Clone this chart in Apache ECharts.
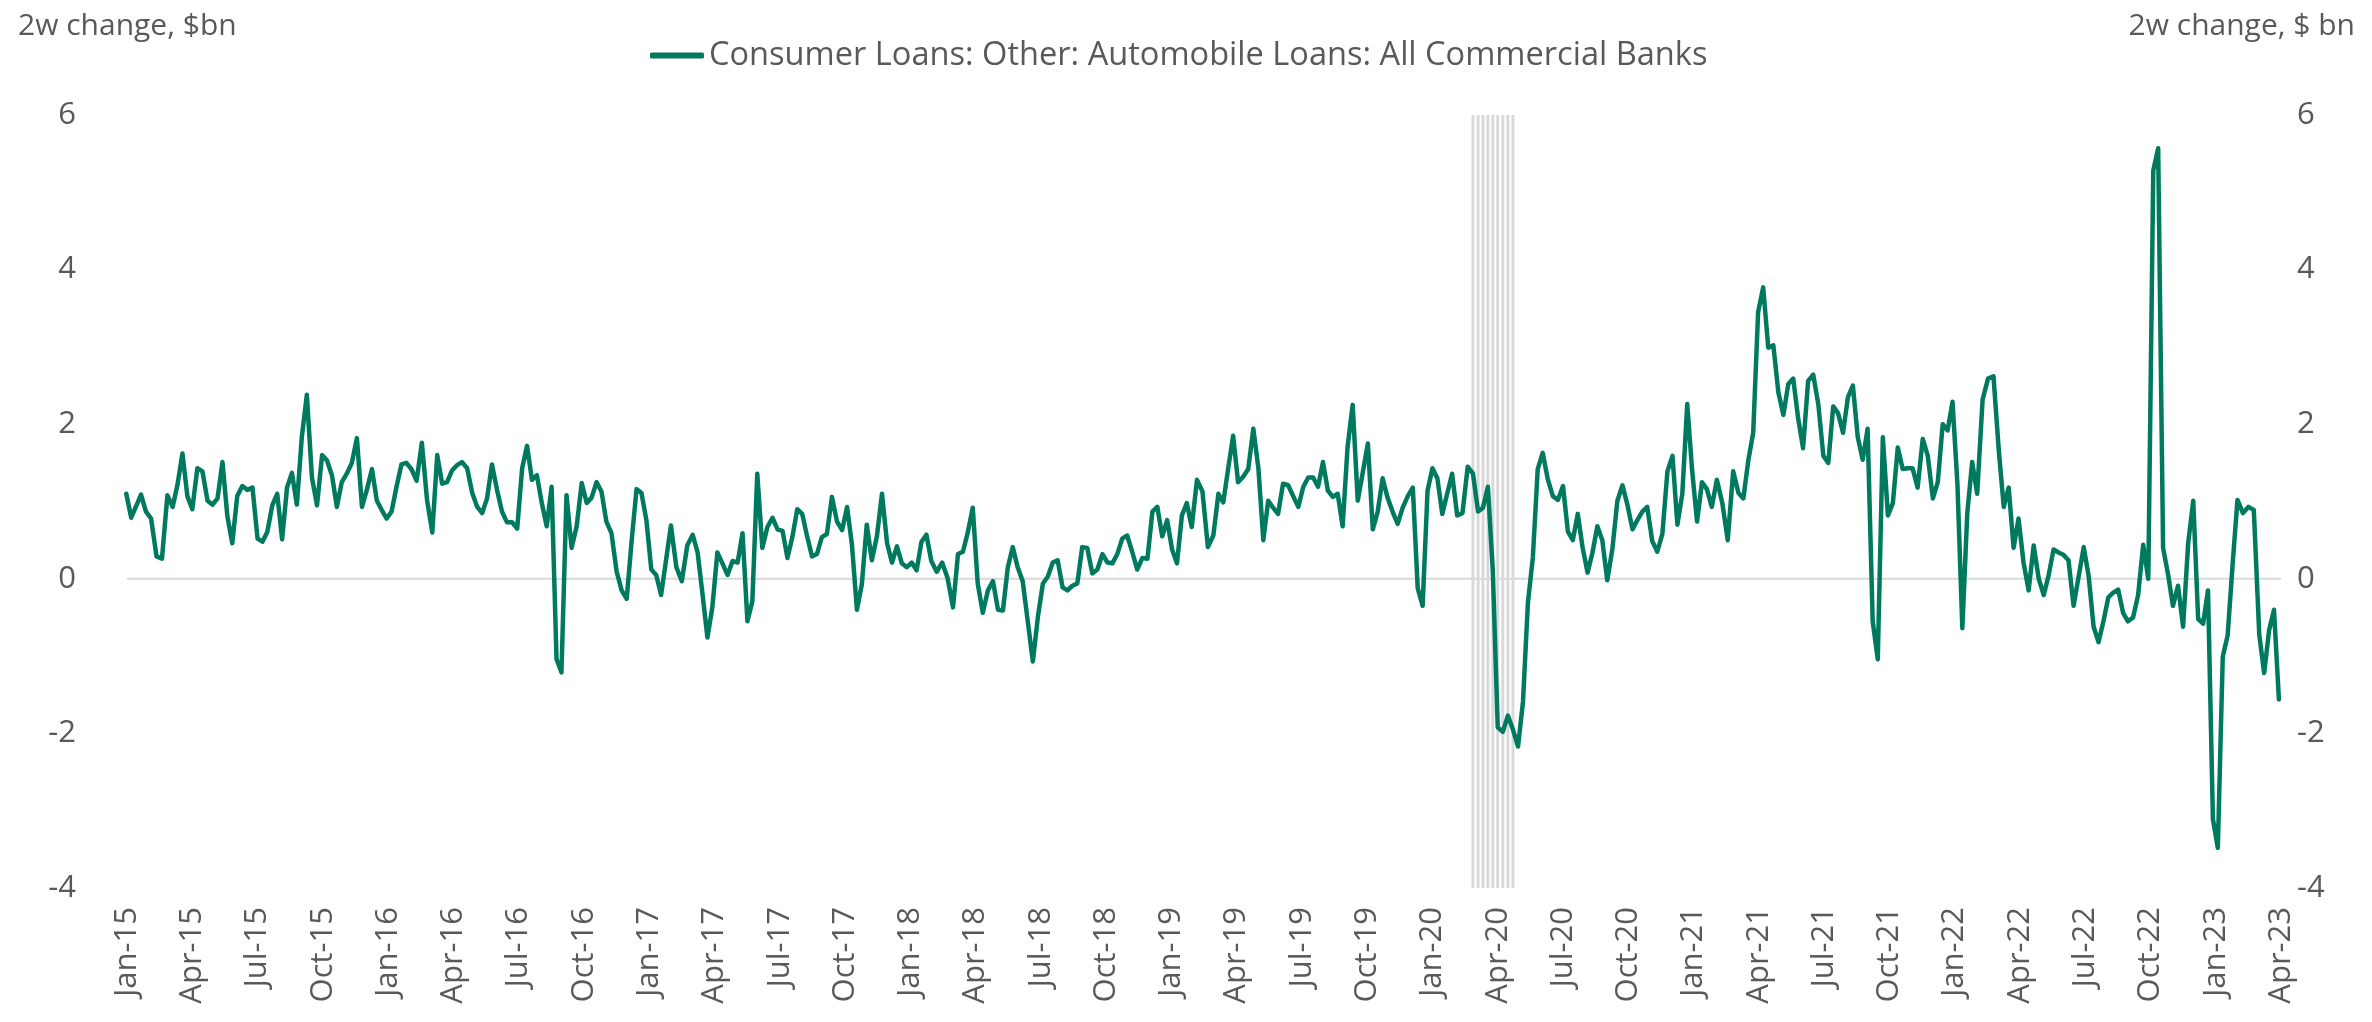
<!DOCTYPE html>
<html>
<head>
<meta charset="utf-8">
<script src="https://cdn.jsdelivr.net/npm/echarts@6/dist/echarts.min.js"></script>
<style>
  html, body { margin: 0; padding: 0; background: #ffffff; }
  #chart { width: 2372px; height: 1022px; }
</style>
</head>
<body>
<div id="chart"></div>
<script>
// Weekly H.8 series: two-week change in auto loans held by commercial banks, $bn
const seriesName = 'Consumer Loans: Other: Automobile Loans: All Commercial Banks';
const firstWeek = '2014-12-31';   // Wednesday of the first observation; one value per week after it

const autoLoans2w = [
  1.10, 0.79, 0.94, 1.09, 0.87, 0.78, 0.29, 0.26, 1.08, 0.93,
  1.22, 1.62, 1.07, 0.90, 1.43, 1.39, 1.01, 0.96, 1.04, 1.51,
  0.81, 0.46, 1.07, 1.20, 1.15, 1.18, 0.52, 0.48, 0.61, 0.95,
  1.10, 0.51, 1.18, 1.37, 0.96, 1.83, 2.38,
  1.31, 0.95, 1.60,
  1.53, 1.34, 0.93, 1.25, 1.36, 1.50, 1.82, 0.93, 1.16, 1.42,
  1.01, 0.89, 0.78, 0.87, 1.19, 1.48, 1.50, 1.42, 1.27, 1.76,
  1.01, 0.60, 1.60, 1.23, 1.25, 1.40, 1.47, 1.51, 1.43, 1.11,
  0.93, 0.85, 1.04, 1.48, 1.16, 0.87, 0.73,
  0.73, 0.65, 1.43,
  1.72, 1.28, 1.34, 0.98, 0.68, 1.19, -1.04, -1.21, 1.08, 0.40,
  0.68, 1.24, 0.98, 1.05, 1.25, 1.13, 0.74, 0.59, 0.10, -0.15,
  -0.26, 0.49, 1.16, 1.11, 0.76, 0.12, 0.05, -0.21, 0.24, 0.69,
  0.15, -0.03, 0.43, 0.57, 0.34, -0.20, -0.76,
  -0.37, 0.34, 0.20,
  0.05, 0.23, 0.21, 0.59, -0.55, -0.29, 1.36, 0.40, 0.67, 0.79,
  0.64, 0.62, 0.27, 0.54, 0.90, 0.84, 0.55, 0.29, 0.32, 0.54,
  0.58, 1.06, 0.74, 0.63, 0.93, 0.43, -0.40, -0.07, 0.70, 0.24,
  0.55, 1.10, 0.46, 0.21, 0.42, 0.20, 0.15,
  0.21, 0.11, 0.48,
  0.57, 0.23, 0.09, 0.21, 0.01, -0.37, 0.32, 0.35, 0.60, 0.92,
  -0.06, -0.44, -0.15, -0.03, -0.40, -0.41, 0.15, 0.41, 0.15, -0.03,
  -0.55, -1.07, -0.49, -0.06, 0.03, 0.21, 0.24, -0.11, -0.15, -0.09,
  -0.06, 0.41, 0.40, 0.07, 0.12, 0.32, 0.21,
  0.20, 0.32, 0.52,
  0.56, 0.35, 0.12, 0.27, 0.26, 0.87, 0.93, 0.55, 0.76, 0.38,
  0.20, 0.82, 0.98, 0.67, 1.28, 1.13, 0.41, 0.56, 1.10, 0.99,
  1.43, 1.85, 1.25, 1.32, 1.42, 1.94, 1.43, 0.50, 1.01, 0.92,
  0.84, 1.23, 1.21, 1.07, 0.93, 1.19, 1.31,
  1.31, 1.19, 1.51,
  1.14, 1.06, 1.10, 0.68, 1.71, 2.25, 1.01, 1.38, 1.75, 0.64,
  0.87, 1.30, 1.05, 0.87, 0.71, 0.92, 1.07, 1.18, -0.12, -0.35,
  1.14, 1.43, 1.30, 0.84, 1.10, 1.36, 0.82, 0.85, 1.45, 1.36,
  0.87, 0.92, 1.19, 0.10, -1.92, -1.98, -1.77,
  -1.95, -2.17, -1.59,
  -0.31, 0.27, 1.42, 1.63, 1.29, 1.07, 1.02, 1.20, 0.61, 0.50,
  0.84, 0.40, 0.08, 0.34, 0.68, 0.50, -0.02, 0.38, 1.01, 1.21,
  0.95, 0.64, 0.76, 0.87, 0.93, 0.49, 0.35, 0.58, 1.39, 1.59,
  0.70, 1.10, 2.26, 1.40, 0.74, 1.25, 1.16,
  0.93, 1.28, 0.98,
  0.50, 1.39, 1.11, 1.04, 1.53, 1.89, 3.45, 3.77, 2.99, 3.02,
  2.41, 2.12, 2.52, 2.59, 2.08, 1.69, 2.56, 2.64, 2.26, 1.59,
  1.50, 2.23, 2.14, 1.89, 2.35, 2.50, 1.83, 1.54, 1.94, -0.55,
  -1.04, 1.83, 0.82, 0.98, 1.70, 1.42, 1.43,
  1.43, 1.18, 1.81,
  1.59, 1.04, 1.25, 2.00, 1.92, 2.29, 1.22, -0.64, 0.85, 1.51,
  1.10, 2.32, 2.59, 2.62, 1.65, 0.93, 1.18, 0.40, 0.78, 0.21,
  -0.15, 0.43, 0.00, -0.21, 0.05, 0.38, 0.34, 0.31, 0.24, -0.35,
  0.03, 0.41, 0.03, -0.62, -0.82, -0.55, -0.24,
  -0.18, -0.14, -0.44,
  -0.55, -0.50, -0.21, 0.44, 0.00, 5.28, 5.57, 0.40, 0.06, -0.35,
  -0.09, -0.62, 0.46, 1.01, -0.52, -0.58, -0.15, -3.11, -3.48, -1.01,
  -0.73, 0.18, 1.02, 0.85, 0.93, 0.89, -0.72, -1.22, -0.67, -0.40,
  -1.56
];

// Weeks shaded as recession (NBER, early 2020)
const recessionWeeks = [
  '2020-02-26', '2020-03-04', '2020-03-11', '2020-03-18', '2020-03-25',
  '2020-04-01', '2020-04-08', '2020-04-15', '2020-04-22'
];

const monthNames = ['Jan', 'Feb', 'Mar', 'Apr', 'May', 'Jun', 'Jul', 'Aug', 'Sep', 'Oct', 'Nov', 'Dec'];
const axisStartYear = 2015;     // x axis is measured in months from Jan-2015
const xMonthsMax = 99;          // Apr-23
const xTickMonths = 3;          // quarterly ticks
const yMin = -4, yMax = 6, yStep = 2;

const fontFamily = '"Open Sans", "Noto Sans", sans-serif';
const textGrey = '#595959';
const lineGreen = '#007a5e';
const shadeGrey = '#d9d9d9';

const DAY = 86400000;
function isoAt(i) {
  const d = new Date(Date.parse(firstWeek + 'T00:00:00Z') + i * 7 * DAY);
  return d.toISOString().slice(0, 10);
}
// fractional month position of a date on the x axis
function monthPos(iso) {
  const d = new Date(iso + 'T00:00:00Z');
  const y = d.getUTCFullYear(), m = d.getUTCMonth(), day = d.getUTCDate();
  const dim = new Date(Date.UTC(y, m + 1, 0)).getUTCDate();
  return (y - axisStartYear) * 12 + m + (day - 1) / dim;
}

const lineData = autoLoans2w.map((v, i) => [monthPos(isoAt(i)), v]);
const shadeData = recessionWeeks.map(w => [monthPos(w), 1]);

function monthLabel(v) {
  const m = Math.round(v);
  const y = axisStartYear + Math.floor(m / 12);
  return monthNames[((m % 12) + 12) % 12] + '-' + String(y).slice(2);
}

const titleSize = 30;
const tickSize = 31;
const legendSize = 32.6;
const chart = echarts.init(document.getElementById('chart'), null, { renderer: 'canvas' });

chart.setOption({
  backgroundColor: '#ffffff',
  animation: false,
  textStyle: { fontFamily: fontFamily },
  title: [
    { text: '2w change, $bn', left: 13, top: 6,
      textStyle: { color: textGrey, fontSize: titleSize, fontWeight: 'normal', fontFamily: fontFamily } },
    { text: '2w change, $ bn', right: 12, top: 6,
      textStyle: { color: textGrey, fontSize: titleSize, fontWeight: 'normal', fontFamily: fontFamily } }
  ],
  legend: {
    data: [{ name: seriesName, icon: 'roundRect' }],
    left: 645,
    top: 34,
    itemWidth: 54,
    itemHeight: 6,
    itemStyle: { color: lineGreen },
    textStyle: { color: textGrey, fontSize: legendSize, fontFamily: fontFamily }
  },
  grid: { left: 127, right: 91, top: 115, bottom: 134, containLabel: false },
  xAxis: {
    type: 'value',
    min: 0,
    max: xMonthsMax,
    interval: xTickMonths,
    axisLine: { show: false },
    axisTick: { show: false },
    splitLine: { show: false },
    axisLabel: {
      rotate: 90,
      margin: 19,
      color: textGrey,
      fontSize: tickSize,
      fontFamily: fontFamily,
      formatter: monthLabel
    }
  },
  yAxis: [
    {
      type: 'value', position: 'left', min: yMin, max: yMax, interval: yStep,
      axisLine: { show: false }, axisTick: { show: false }, splitLine: { show: false },
      axisLabel: { color: textGrey, fontSize: tickSize, fontFamily: fontFamily, margin: 51 }
    },
    {
      type: 'value', position: 'right', min: yMin, max: yMax, interval: yStep,
      axisLine: { show: false }, axisTick: { show: false }, splitLine: { show: false },
      axisLabel: { color: textGrey, fontSize: tickSize, fontFamily: fontFamily, margin: 16 }
    },
    {
      type: 'value', min: 0, max: 1, show: false
    }
  ],
  series: [
    {
      name: 'recession',
      type: 'bar',
      yAxisIndex: 2,
      barWidth: 3,
      silent: true,
      z: 1,
      itemStyle: { color: shadeGrey },
      data: shadeData
    },
    {
      name: 'zero',
      type: 'line',
      yAxisIndex: 0,
      silent: true,
      symbol: 'none',
      z: 2,
      lineStyle: { color: shadeGrey, width: 2 },
      data: [[0, 0], [xMonthsMax, 0]]
    },
    {
      name: seriesName,
      type: 'line',
      yAxisIndex: 0,
      symbol: 'none',
      showSymbol: false,
      z: 3,
      lineStyle: { color: lineGreen, width: 4.5, join: 'round', cap: 'round' },
      itemStyle: { color: lineGreen },
      data: lineData
    }
  ]
});
</script>
</body>
</html>
